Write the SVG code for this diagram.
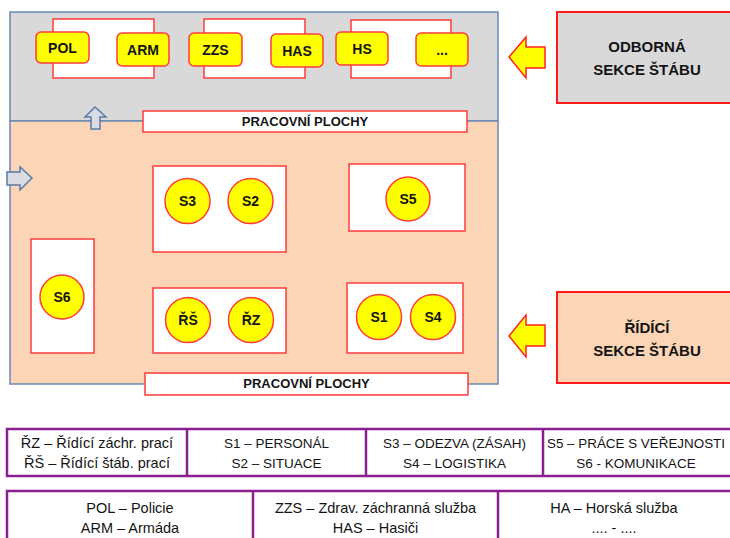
<svg xmlns="http://www.w3.org/2000/svg" width="730" height="538" viewBox="0 0 730 538">
<defs>
<style>
text{font-family:"Liberation Sans",Arial,sans-serif;fill:#141414;text-anchor:middle}
.b{font-weight:bold;font-size:13px}
.n{font-weight:bold;font-size:14px}
.big{font-weight:bold;font-size:15px}
.lg{font-size:14.5px}
.lc{font-size:13.5px}
.area{stroke:#6A88B4;stroke-width:1.5}
.ws{fill:#fff;stroke:#FF3B3B;stroke-width:1.5}
.yel{fill:#FFFF00;stroke:#FF3B3B;stroke-width:1.5}
.pur{fill:#fff;stroke:#8A1F8F;stroke-width:2.5}
.arrY{fill:#FFFF00;stroke:#FF2020;stroke-width:1.5;stroke-linejoin:miter}
.arrB{fill:#D9DDE3;stroke:#5A7AA8;stroke-width:1.5}
</style>
</defs>
<rect width="730" height="538" fill="#fff"/>

<g id="area-top"><rect class="area" x="10" y="12" width="488" height="109" fill="#D9D9D9"/></g>
<g id="area-bottom"><rect class="area" x="10" y="121" width="488" height="263" fill="#FBD5B5"/></g>

<g id="connectors">
<path class="arrB" d="M95,107 L106,117 L100,117 L100,129 L91,129 L91,117 L85,117 Z"/>
<path class="arrB" d="M32,178 L20,167 L20,172 L7,172 L7,185 L20,185 L20,190 Z"/>
<path class="arrY" d="M509,57 L526,37 L526,47 L545,47 L545,68 L526,68 L526,78 Z"/>
<path class="arrY" d="M509,336 L526,315 L526,325 L545,325 L545,346 L526,346 L526,357 Z"/>
</g>

<g id="pair-pol-arm">
<rect class="ws" x="53" y="19" width="101" height="59"/>
<rect class="yel" x="36" y="32" width="53" height="31" rx="5"/>
<text class="n" x="62.5" y="52.5">POL</text>
<rect class="yel" x="117" y="33" width="52" height="33" rx="5"/>
<text class="n" x="143" y="54.5">ARM</text>
</g>
<g id="pair-zzs-has">
<rect class="ws" x="204" y="19" width="101" height="59"/>
<rect class="yel" x="189" y="33" width="53" height="33" rx="5"/>
<text class="n" x="215.5" y="54.5">ZZS</text>
<rect class="yel" x="271" y="34" width="52" height="33" rx="5"/>
<text class="n" x="297" y="55.5">HAS</text>
</g>
<g id="pair-hs-etc">
<rect class="ws" x="351" y="20" width="100" height="58"/>
<rect class="yel" x="336" y="32" width="52" height="33" rx="5"/>
<text class="n" x="362" y="53.5">HS</text>
<rect class="yel" x="416" y="33" width="52" height="33" rx="5"/>
<text class="n" x="442" y="55">...</text>
</g>

<g id="plochy-top">
<rect class="ws" x="143" y="111" width="324" height="21"/>
<text class="b" x="305" y="126">PRACOVNÍ PLOCHY</text>
</g>

<g id="desk-s3-s2">
<rect class="ws" x="153" y="166" width="133" height="86"/>
<circle class="yel" cx="187.5" cy="201" r="22.5"/>
<text class="n" x="187.5" y="206">S3</text>
<circle class="yel" cx="250.5" cy="201" r="22.5"/>
<text class="n" x="250.5" y="206">S2</text>
</g>
<g id="desk-s5">
<rect class="ws" x="349" y="164" width="116" height="67"/>
<circle class="yel" cx="408" cy="199" r="22"/>
<text class="n" x="408" y="204">S5</text>
</g>
<g id="desk-s6">
<rect class="ws" x="31" y="239" width="63" height="114"/>
<circle class="yel" cx="62" cy="297" r="22"/>
<text class="n" x="62" y="302">S6</text>
</g>
<g id="desk-rs-rz">
<rect class="ws" x="153" y="288" width="133" height="65"/>
<circle class="yel" cx="188" cy="320" r="22.5"/>
<text class="n" x="188" y="325">ŘŠ</text>
<circle class="yel" cx="251" cy="320" r="22.5"/>
<text class="n" x="251" y="325">ŘZ</text>
</g>
<g id="desk-s1-s4">
<rect class="ws" x="347" y="283" width="116" height="70"/>
<circle class="yel" cx="379" cy="317" r="22.5"/>
<text class="n" x="379" y="322">S1</text>
<circle class="yel" cx="433" cy="317" r="22.5"/>
<text class="n" x="433" y="322">S4</text>
</g>

<g id="plochy-bottom">
<rect class="ws" x="145" y="373" width="323" height="22"/>
<text class="b" x="306.5" y="388">PRACOVNÍ PLOCHY</text>
</g>

<g id="odborna">
<rect x="557" y="12" width="180" height="91" fill="#D9D9D9" stroke="#FF1A1A" stroke-width="2"/>
<text class="big" x="647" y="52">ODBORNÁ</text>
<text class="big" x="647" y="75">SEKCE ŠTÁBU</text>
</g>
<g id="ridici">
<rect x="557" y="292" width="180" height="91" fill="#FBD5B5" stroke="#FF1A1A" stroke-width="2"/>
<text class="big" x="647" y="333">ŘÍDÍCÍ</text>
<text class="big" x="647" y="356">SEKCE ŠTÁBU</text>
</g>

<g id="legend-sections">
<rect class="pur" x="7" y="429" width="726" height="47"/>
<line x1="187" y1="429" x2="187" y2="476" stroke="#8A1F8F" stroke-width="2.5"/>
<line x1="366" y1="429" x2="366" y2="476" stroke="#8A1F8F" stroke-width="2.5"/>
<line x1="543" y1="429" x2="543" y2="476" stroke="#8A1F8F" stroke-width="2.5"/>
<text class="lg" x="97" y="448">ŘZ – Řídící záchr. prací</text>
<text class="lg" x="97" y="468">ŘŠ – Řídící štáb. prací</text>
<text class="lc" x="276.5" y="448">S1 – PERSONÁL</text>
<text class="lc" x="276.5" y="468">S2 – SITUACE</text>
<text class="lc" x="454.5" y="448">S3 – ODEZVA (ZÁSAH)</text>
<text class="lc" x="454.5" y="468">S4 – LOGISTIKA</text>
<text class="lc" x="636" y="448" textLength="178" lengthAdjust="spacingAndGlyphs">S5 – PRÁCE S VEŘEJNOSTI</text>
<text class="lc" x="636" y="468">S6 - KOMUNIKACE</text>
</g>
<g id="legend-services">
<rect class="pur" x="7" y="491" width="726" height="60"/>
<line x1="253" y1="491" x2="253" y2="540" stroke="#8A1F8F" stroke-width="2.5"/>
<line x1="498" y1="491" x2="498" y2="540" stroke="#8A1F8F" stroke-width="2.5"/>
<text class="lg" x="130" y="513">POL – Policie</text>
<text class="lg" x="130" y="533">ARM – Armáda</text>
<text class="lg" x="375.5" y="513">ZZS – Zdrav. záchranná služba</text>
<text class="lg" x="375.5" y="533">HAS – Hasiči</text>
<text class="lg" x="614" y="513">HA – Horská služba</text>
<text class="lg" x="614" y="533">.... - ....</text>
</g>
</svg>
